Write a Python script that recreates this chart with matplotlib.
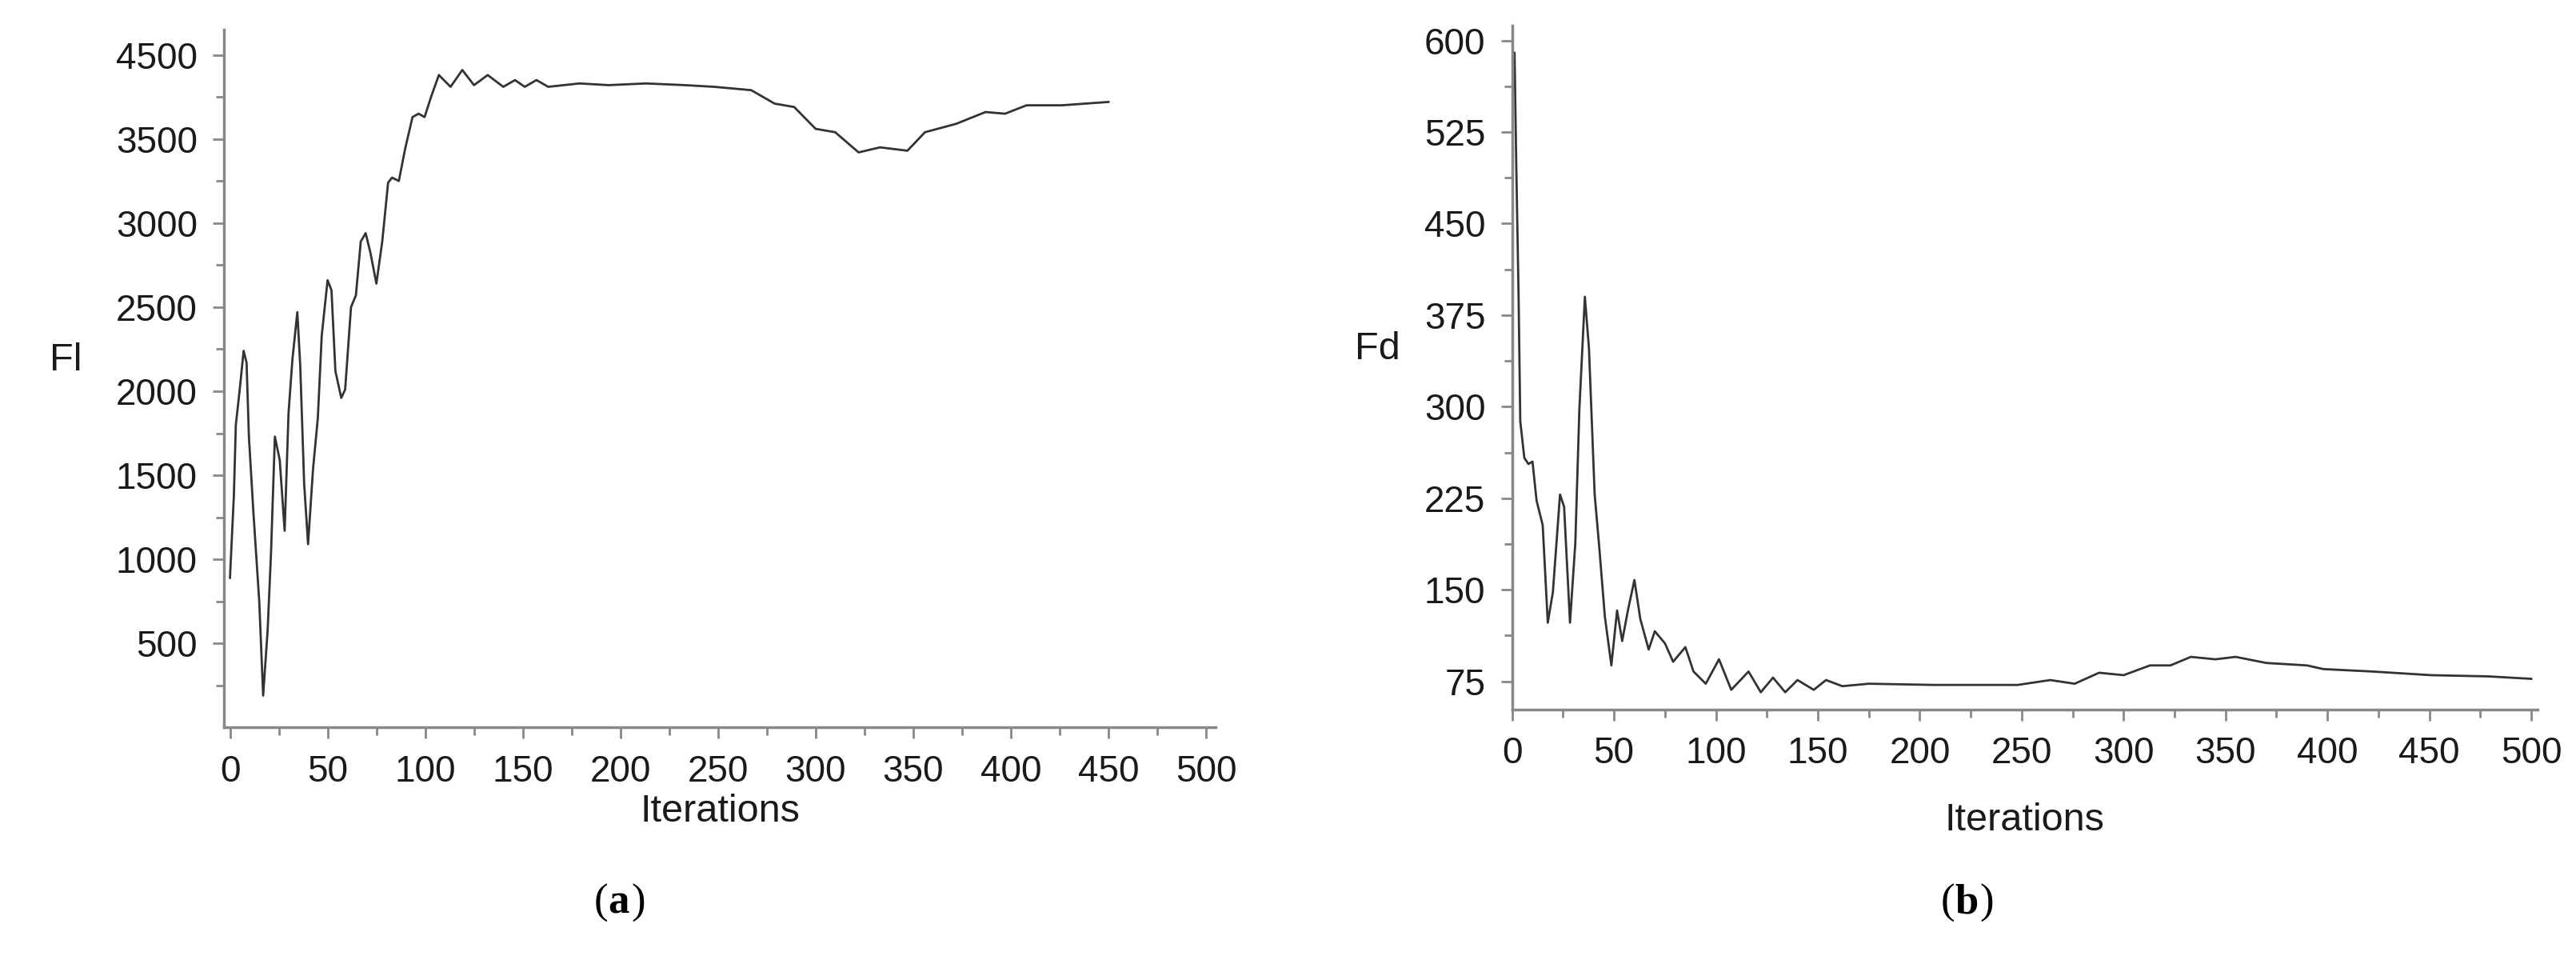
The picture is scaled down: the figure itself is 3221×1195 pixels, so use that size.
import matplotlib.pyplot as plt
import numpy as np

plt.rcParams['font.family'] = ['Liberation Sans', 'DejaVu Sans']

# Panel (a): Fl vs iterations
fl_iter = [0, 2, 3, 5, 7, 8.5, 9.7, 12, 15, 17, 19.3, 21, 23, 25.5, 28, 30, 32, 34.5, 36, 38,
           40, 42.5, 45, 47, 50, 52, 54, 57, 59, 62, 64.5, 67, 69.5, 72, 75, 78, 81, 83, 86.5,
           89.7, 93.5, 96.6, 99.7, 103, 107, 113, 119, 125, 132, 140, 146, 151, 157, 163, 179,
           194, 213, 233, 248, 267, 279, 289, 300, 310, 322, 333, 347, 356, 372, 387, 397, 408,
           426, 450]
fl_vals = [890, 1380, 1800, 2010, 2240, 2170, 1730, 1280, 750, 190, 580, 1030, 1730, 1590, 1170,
           1870, 2190, 2470, 2150, 1450, 1090, 1530, 1840, 2330, 2660, 2600, 2120, 1960, 2010,
           2500, 2570, 2890, 2940, 2820, 2640, 2890, 3240, 3270, 3250, 3440, 3630, 3650, 3630,
           3750, 3880, 3810, 3910, 3820, 3880, 3810, 3850, 3810, 3850, 3810, 3830, 3820, 3830,
           3820, 3810, 3790, 3710, 3690, 3560, 3540, 3420, 3450, 3430, 3540, 3590, 3660, 3650,
           3700, 3700, 3720]
fl_ticks = [500, 1000, 1500, 2000, 2500, 3000, 3500, 4000]
fl_ticklabels = ['500', '1000', '1500', '2000', '2500', '3000', '3500', '4500']

# Panel (b): Fd vs iterations
fd_iter = [0, 1.2, 2, 3.2, 4, 6, 8, 10, 12, 15, 17.5, 20, 23.5, 25.5, 28.4, 31, 33, 35.7, 37.7,
           40.5, 42.6, 45.5, 48.7, 51.5, 54, 56.8, 60, 62.9, 67, 70, 75, 79, 85, 89, 95, 101.5,
           107.5, 116, 122, 128, 134, 140, 148, 154, 162, 175, 207, 248, 264, 276, 288, 300, 313,
           323, 333, 345, 355, 370, 390, 398, 422, 451, 479, 500]
fd_vals = [560, 590, 502, 388, 288, 258, 253, 255, 223, 203, 123, 148, 228, 218, 123, 188, 298,
           390, 348, 228, 188, 128, 88, 133, 108, 133, 158, 126, 101, 116, 106, 91, 103, 83, 73,
           93, 68, 83, 66, 78, 66, 76, 68, 76, 71, 73, 72, 72, 76, 73, 82, 80, 88, 88, 95, 93, 95,
           90, 88, 85, 83, 80, 79, 77]
fd_ticks = [75, 150, 225, 300, 375, 450, 525, 600]

x_ticks = [0, 50, 100, 150, 200, 250, 300, 350, 400, 450, 500]

line_color = '#333333'
axis_color = '#888888'
text_color = '#1a1a1a'

fig = plt.figure(figsize=(32.21, 11.95), dpi=100)
ax_a = fig.add_axes([0.087, 0.239, 0.385, 0.73])
ax_b = fig.add_axes([0.587, 0.258, 0.398, 0.715])


def style_axis(ax):
    for side in ['top', 'right']:
        ax.spines[side].set_visible(False)
    for side in ['left', 'bottom']:
        ax.spines[side].set_color(axis_color)
        ax.spines[side].set_linewidth(2.5)
    ax.tick_params(axis='both', which='both', direction='out', color=axis_color,
                   width=2, labelsize=33, labelcolor=text_color)
    ax.tick_params(axis='both', which='major', length=10, pad=14)
    ax.tick_params(axis='both', which='minor', length=7)
    ax.set_xticks(x_ticks)
    ax.set_xticks(np.arange(25, 500, 50), minor=True)


ax_a.plot(fl_iter, fl_vals, color=line_color, lw=2)
style_axis(ax_a)
ax_a.set_xlim(-3, 505)
ax_a.set_ylim(0, 4150)
ax_a.set_yticks(fl_ticks)
ax_a.set_yticklabels(fl_ticklabels)
ax_a.set_yticks(np.arange(250, 4150, 500), minor=True)
ax_a.set_xlabel('Iterations', fontsize=35, color=text_color, labelpad=4)
ax_a.set_ylabel('Fl', fontsize=35, color=text_color, rotation=0, labelpad=45)

ax_b.plot(fd_iter, fd_vals, color=line_color, lw=2)
style_axis(ax_b)
ax_b.set_xlim(0, 503)
ax_b.set_ylim(52, 612)
ax_b.set_yticks(fd_ticks)
ax_b.set_yticks(np.arange(112.5, 612, 75), minor=True)
ax_b.set_xlabel('Iterations', fontsize=35, color=text_color, labelpad=28)
ax_b.set_ylabel('Fd', fontsize=35, color=text_color, rotation=0, labelpad=42)

fig.text(0.236, 0.045, '(', fontsize=38, family='Liberation Serif', ha='right')
fig.text(0.236, 0.045, 'a', fontsize=38, family='Liberation Serif', weight='bold', ha='left')
fig.text(0.245, 0.045, ')', fontsize=38, family='Liberation Serif', ha='left')
fig.text(0.759, 0.045, '(', fontsize=38, family='Liberation Serif', ha='right')
fig.text(0.759, 0.045, 'b', fontsize=38, family='Liberation Serif', weight='bold', ha='left')
fig.text(0.7685, 0.045, ')', fontsize=38, family='Liberation Serif', ha='left')

fig.savefig('out.png', dpi=100, facecolor='white')
